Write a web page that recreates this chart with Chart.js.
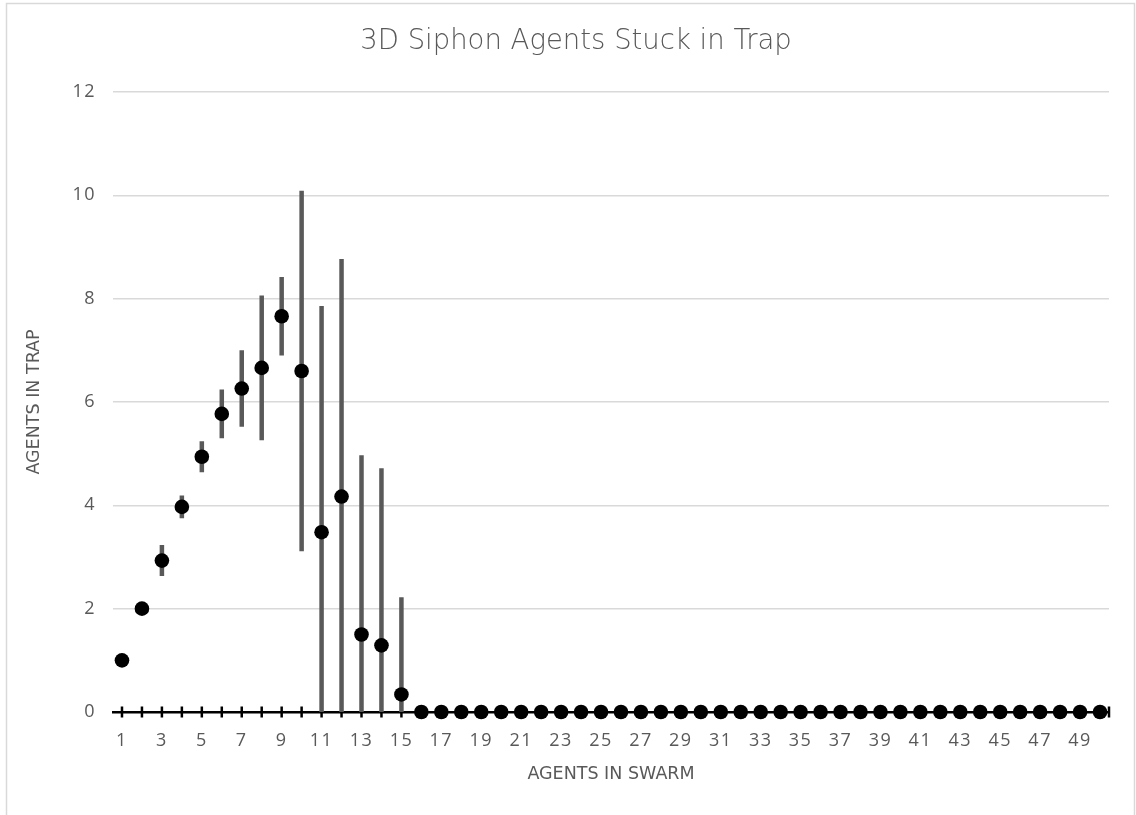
<!DOCTYPE html>
<html>
<head>
<meta charset="utf-8">
<script src="https://cdn.jsdelivr.net/npm/chart.js@4.4.1/dist/chart.umd.min.js"></script>
<style>
  html, body { margin: 0; padding: 0; background: #ffffff; }
  #wrap { width: 1136px; height: 815px; position: relative; }
</style>
</head>
<body>
<div id="wrap"><canvas id="c" width="1136" height="815"></canvas></div>
<script>
// Swarm sizes on the category axis
const swarmSizes = [1, 2, 3, 4, 5, 6, 7, 8, 9, 10,
  11, 12, 13, 14, 15, 16, 17, 18, 19, 20,
  21, 22, 23, 24, 25, 26, 27, 28, 29, 30,
  31, 32, 33, 34, 35, 36, 37, 38, 39, 40,
  41, 42, 43, 44, 45, 46, 47, 48, 49, 50];

// Mean number of agents stuck in the trap
const meanTrapped = [1.0, 2.0, 2.93, 3.97, 4.94, 5.77, 6.26, 6.66, 7.66, 6.6,
  3.48, 4.17, 1.5, 1.29, 0.34, 0, 0, 0, 0, 0,
  0, 0, 0, 0, 0, 0, 0, 0, 0, 0,
  0, 0, 0, 0, 0, 0, 0, 0, 0, 0,
  0, 0, 0, 0, 0, 0, 0, 0, 0, 0];

// Spread (plus / minus) shown as vertical error bars
const trappedSpread = [0, 0, 0.3, 0.22, 0.3, 0.47, 0.74, 1.4, 0.76, 3.49,
  4.38, 4.6, 3.47, 3.43, 1.88, 0, 0, 0, 0, 0,
  0, 0, 0, 0, 0, 0, 0, 0, 0, 0,
  0, 0, 0, 0, 0, 0, 0, 0, 0, 0,
  0, 0, 0, 0, 0, 0, 0, 0, 0, 0];

// Labelled ticks
const xTickLabels = [1, 3, 5, 7, 9, 11, 13, 15, 17, 19, 21, 23, 25,
  27, 29, 31, 33, 35, 37, 39, 41, 43, 45, 47, 49];
const yTickValues = [0, 2, 4, 6, 8, 10, 12];

const TEXT_GREY = '#595959';
const GRID_GREY = '#d9d9d9';
const TITLE_FONT = "'DejaVu Sans', sans-serif";
const TICK_FONT = "'Open Sans', sans-serif";

// White page with a thin frame around the chart
const framePlugin = {
  id: 'frame',
  beforeDraw(chart) {
    const ctx = chart.ctx;
    ctx.save();
    ctx.fillStyle = '#ffffff';
    ctx.fillRect(0, 0, chart.width, chart.height);
    ctx.strokeStyle = GRID_GREY;
    ctx.lineWidth = 1.5;
    ctx.strokeRect(6.5, 3.5, 1128, chart.height + 20);
    ctx.restore();
  }
};

// Slightly wider spacing for the tick numbers
const tickSpacingPlugin = {
  id: 'tickSpacing',
  beforeDraw(chart) {
    if (chart.$tickSpacing) return;
    chart.$tickSpacing = true;
    ['x', 'y'].forEach(id => {
      const scale = chart.scales[id];
      const orig = scale.drawLabels.bind(scale);
      scale.drawLabels = function (area) {
        const ctx = chart.ctx;
        const prev = ctx.letterSpacing;
        ctx.letterSpacing = '1.5px';
        orig(area);
        ctx.letterSpacing = prev || '0px';
      };
    });
  }
};

// Error bars and cross-shaped tick marks on the category axis
const errorBarPlugin = {
  id: 'errorBars',
  beforeDatasetsDraw(chart) {
    const ctx = chart.ctx;
    const xs = chart.scales.x;
    const ys = chart.scales.y;
    const area = chart.chartArea;

    ctx.save();
    // tick crosses on the zero line
    ctx.strokeStyle = '#000000';
    ctx.lineWidth = 2.5;
    const axisY = ys.getPixelForValue(0);
    const tickXs = swarmSizes.map(v => xs.getPixelForValue(v));
    tickXs.push(xs.right);
    ctx.beginPath();
    tickXs.forEach(px => {
      ctx.moveTo(px, axisY - 5.5);
      ctx.lineTo(px, axisY + 5.5);
    });
    ctx.stroke();

    // vertical error bars, clipped to the plot area
    ctx.beginPath();
    ctx.rect(area.left, area.top, area.right - area.left, area.bottom - area.top);
    ctx.clip();
    ctx.strokeStyle = TEXT_GREY;
    ctx.lineWidth = 4.5;
    ctx.lineCap = 'butt';
    ctx.beginPath();
    swarmSizes.forEach((s, i) => {
      const err = trappedSpread[i];
      if (!err) return;
      const px = xs.getPixelForValue(s);
      ctx.moveTo(px, ys.getPixelForValue(meanTrapped[i] + err));
      ctx.lineTo(px, ys.getPixelForValue(meanTrapped[i] - err));
    });
    ctx.stroke();
    ctx.restore();
  }
};

const points = swarmSizes.map((s, i) => ({ x: s, y: meanTrapped[i] }));

new Chart(document.getElementById('c'), {
  type: 'scatter',
  data: {
    datasets: [{
      label: 'Agents in trap',
      data: points,
      pointRadius: 7.3,
      pointHoverRadius: 7.3,
      pointBackgroundColor: '#000000',
      pointBorderWidth: 0,
      showLine: false,
      clip: false
    }]
  },
  options: {
    responsive: false,
    animation: false,
    events: [],
    layout: { padding: { left: 43, right: 27, top: 0, bottom: 0 } },
    plugins: {
      legend: { display: false },
      tooltip: { enabled: false },
      title: {
        display: true,
        text: '3D Siphon Agents Stuck in Trap',
        color: TEXT_GREY,
        font: { family: TITLE_FONT, size: 27.5, weight: '200' },
        padding: { top: 25, bottom: 34 }
      }
    },
    scales: {
      x: {
        type: 'linear',
        min: 0.55,
        max: 50.45,
        afterBuildTicks(scale) {
          scale.ticks = swarmSizes.map(v => ({ value: v }));
        },
        afterFit(scale) { scale.height = 103; },
        grid: { display: false, drawTicks: false },
        border: { display: true, color: '#000000', width: 2.5 },
        ticks: {
          autoSkip: false,
          maxRotation: 0,
          padding: 18,
          color: TEXT_GREY,
          font: { family: TICK_FONT, size: 18 },
          callback: (v) => xTickLabels.includes(v) ? String(v) : ''
        },
        title: {
          display: true,
          text: 'AGENTS IN SWARM',
          color: TEXT_GREY,
          font: { family: TITLE_FONT, size: 17.5 },
          padding: { top: 0, bottom: 30 }
        }
      },
      y: {
        min: 0,
        max: 12,
        afterBuildTicks(scale) {
          scale.ticks = yTickValues.map(v => ({ value: v }));
        },
        afterFit(scale) { scale.width = 70; },
        grid: {
          drawTicks: false,
          lineWidth: 1.5,
          color: (c) => (c.tick && c.tick.value === 0) ? 'rgba(0,0,0,0)' : GRID_GREY
        },
        border: { display: false },
        ticks: {
          padding: 17,
          color: TEXT_GREY,
          font: { family: TICK_FONT, size: 18 }
        },
        title: {
          display: true,
          text: 'AGENTS IN TRAP',
          color: TEXT_GREY,
          font: { family: TITLE_FONT, size: 17.5 },
          padding: { top: -19, bottom: 0 }
        }
      }
    }
  },
  plugins: [framePlugin, tickSpacingPlugin, errorBarPlugin]
});
</script>
</body>
</html>
